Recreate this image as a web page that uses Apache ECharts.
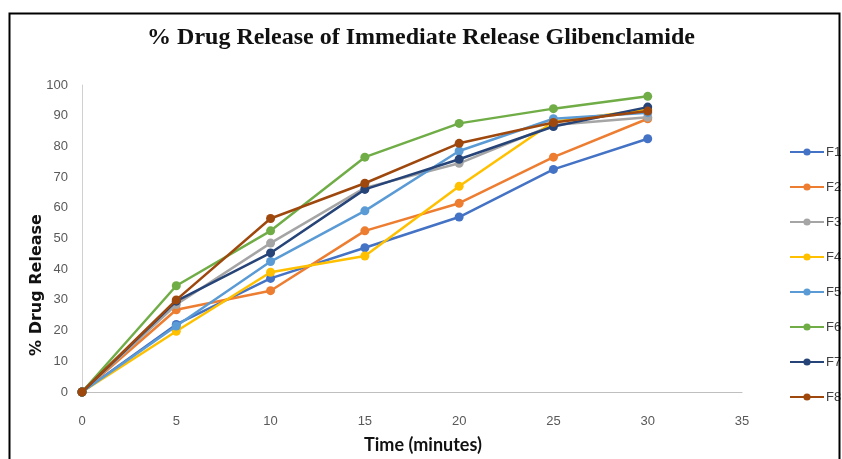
<!DOCTYPE html>
<html>
<head>
<meta charset="utf-8">
<title>% Drug Release of Immediate Release Glibenclamide</title>
<script src="https://cdn.jsdelivr.net/npm/echarts@6/dist/echarts.min.js"></script>
<style>
  html, body { margin: 0; padding: 0; background: #ffffff; }
  #chart { width: 842px; height: 459px; }
</style>
</head>
<body>
<div id="chart"></div>
<script>
// Sampling times (minutes)
const times = [0, 5, 10, 15, 20, 25, 30];

// Cumulative % drug release for each formulation
const seriesNames = ['F1', 'F2', 'F3', 'F4', 'F5', 'F6', 'F7', 'F8'];
const F1 = [0, 22.0, 37.0, 47.0, 57.0, 72.5, 82.5];
const F2 = [0, 26.8, 33.0, 52.5, 61.5, 76.5, 89.0];
const F3 = [0, 28.5, 48.5, 66.5, 74.5, 87.0, 89.5];
const F4 = [0, 19.8, 39.0, 44.3, 67.0, 88.0, 92.0];
const F5 = [0, 21.5, 42.5, 59.0, 78.5, 89.0, 91.0];
const F6 = [0, 34.6, 52.5, 76.5, 87.5, 92.3, 96.3];
const F7 = [0, 29.6, 45.3, 66.0, 75.8, 86.5, 92.8];
const F8 = [0, 30.0, 56.5, 68.0, 81.0, 87.8, 91.5];
const seriesValues = [F1, F2, F3, F4, F5, F6, F7, F8];

// Axis ticks
const xTicks = [0, 5, 10, 15, 20, 25, 30, 35];
const yTicks = [0, 10, 20, 30, 40, 50, 60, 70, 80, 90, 100];

const palette = ['#4472C4', '#ED7D31', '#A5A5A5', '#FFC000', '#5B9BD5', '#70AD47', '#264478', '#9E480E'];

const chart = echarts.init(document.getElementById('chart'), null, { renderer: 'canvas' });

const series = seriesNames.map((name, i) => ({
  name: name,
  type: 'line',
  data: times.map((t, j) => [t, seriesValues[i][j]]),
  symbol: 'circle',
  symbolSize: 9,
  lineStyle: { width: 2.5, color: palette[i] },
  itemStyle: { color: palette[i] },
  emphasis: { disabled: true },
  z: 2 + i
}));

chart.setOption({
  animation: false,
  backgroundColor: '#ffffff',
  color: palette,
  title: {
    text: '% Drug Release of Immediate Release Glibenclamide',
    left: 'center',
    top: 21,
    textStyle: {
      fontFamily: 'Liberation Serif',
      fontWeight: 'bold',
      fontSize: 24,
      color: '#111111'
    }
  },
  grid: { left: 82, right: 100, top: 85, bottom: 66, containLabel: false },
  legend: {
    orient: 'vertical',
    left: 784,
    top: 139,
    itemGap: 19,
    itemWidth: 34,
    itemHeight: 9,
    data: seriesNames,
    textStyle: { fontFamily: 'Liberation Sans', fontSize: 13, lineHeight: 16, color: '#404040', padding: [0, 0, 0, -3] }
  },
  xAxis: {
    type: 'value',
    min: xTicks[0],
    max: xTicks[xTicks.length - 1],
    interval: xTicks[1] - xTicks[0],
    name: 'Time (minutes)',
    nameLocation: 'middle',
    nameGap: 44,
    nameTextStyle: { fontFamily: 'Lato', fontWeight: 'bold', fontSize: 18, color: '#111111', padding: [0, 0, 0, 22] },
    axisLine: { show: true, lineStyle: { color: '#BFBFBF', width: 1 } },
    axisTick: { show: false },
    splitLine: { show: false },
    axisLabel: { fontFamily: 'Liberation Sans', fontSize: 13, color: '#595959', margin: 23 }
  },
  yAxis: {
    type: 'value',
    min: yTicks[0],
    max: yTicks[yTicks.length - 1],
    interval: yTicks[1] - yTicks[0],
    axisLine: { show: true, lineStyle: { color: '#D0D0D0', width: 1 } },
    axisTick: { show: false },
    splitLine: { show: false },
    axisLabel: { fontFamily: 'Liberation Sans', fontSize: 13, color: '#595959', margin: 14 }
  },
  graphic: [
    {
      type: 'rect',
      left: 7,
      top: 11,
      shape: { width: 830, height: 470 },
      style: { fill: null, stroke: '#000000', lineWidth: 2 },
      silent: true,
      z: 100
    },
    {
      type: 'text',
      x: 37,
      y: 285,
      rotation: Math.PI / 2,
      style: {
        text: '% Drug Release',
        fontFamily: 'DejaVu Sans',
        fontWeight: 'bold',
        fontSize: 16,
        fill: '#111111',
        textAlign: 'center',
        textVerticalAlign: 'middle'
      },
      silent: true
    }
  ],
  series: series
});
</script>
</body>
</html>
